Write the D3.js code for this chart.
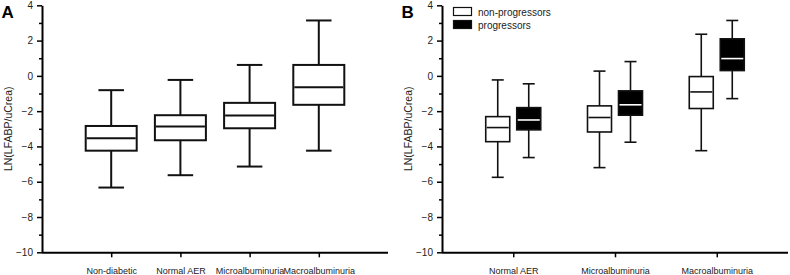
<!DOCTYPE html>
<html>
<head>
<meta charset="utf-8">
<script src="https://cdn.jsdelivr.net/npm/d3@7"></script>
<style>
  body { margin: 0; background: #fff; }
  svg { font-family: "Liberation Sans", Arial, sans-serif; }
</style>
</head>
<body>
<div id="chart"></div>
<script>
// Panel A – all groups
const groupsA = ["Non-diabetic", "Normal AER", "Microalbuminuria", "Macroalbuminuria"];
// [whisker low, q1, median, q3, whisker high]
const statsA = [
  [-6.33, -4.24, -3.53, -2.84, -0.81],
  [-5.63, -3.65, -2.87, -2.23, -0.23],
  [-5.14, -2.97, -2.25, -1.53, 0.62],
  [-4.24, -1.64, -0.64, 0.62, 3.14]
];

// Panel B – progressors vs non-progressors
const groupsB = ["Normal AER", "Microalbuminuria", "Macroalbuminuria"];
const seriesB = ["non-progressors", "progressors"];
const statsNonProg = [
  [-5.75, -3.73, -2.93, -2.31, -0.23],
  [-5.20, -3.18, -2.36, -1.70, 0.27],
  [-4.24, -1.85, -0.91, -0.04, 2.36]
];
const statsProg = [
  [-4.63, -3.06, -2.50, -1.80, -0.45],
  [-3.76, -2.23, -1.64, -0.85, 0.81],
  [-1.29, 0.30, 0.98, 2.10, 3.14]
];

const yMajor = [4, 2, 0, -2, -4, -6, -8, -10];
const yMinor = [3, 1, -1, -3, -5, -7, -9];
const yTitle = "LN(LFABP/uCrea)";

/* ---------- setup ---------- */
const W = 790, H = 275;
const plotTop = 5.3, plotBottom = 252.3;
const svg = d3.select("#chart").append("svg")
  .attr("width", W).attr("height", H);

const y = d3.scaleLinear().domain([-10, 4]).range([plotBottom, plotTop]);

function drawAxes(g, x0, x1, xScale, letter){
  // y axis majors
  g.append("g")
    .attr("transform", `translate(${x0},0)`)
    .call(d3.axisLeft(y).tickValues(yMajor).tickSize(5).tickSizeOuter(0).tickPadding(4))
    .call(a => a.select(".domain").attr("stroke-width", 2))
    .call(a => a.selectAll(".tick line").attr("stroke-width", 1.5))
    .call(a => a.selectAll("text").attr("font-size", 10).attr("fill", "#222"));
  // minors
  g.append("g")
    .attr("transform", `translate(${x0},0)`)
    .call(d3.axisLeft(y).tickValues(yMinor).tickSize(3).tickFormat(""))
    .call(a => a.select(".domain").remove())
    .call(a => a.selectAll(".tick line").attr("stroke-width", 1.5));

  // x axis
  g.append("g")
    .attr("transform", `translate(0,${plotBottom})`)
    .call(d3.axisBottom(xScale).tickSize(5).tickSizeOuter(0).tickPadding(10))
    .call(a => a.select(".domain").attr("d", `M${x0},0.5H${x1}`).attr("stroke-width", 2))
    .call(a => a.selectAll(".tick line").attr("stroke-width", 1.5))
    .call(a => a.selectAll("text").attr("font-size", 9).attr("fill", "#222"));

  // y title
  g.append("text")
    .attr("transform", `translate(${x0 - 30},${(plotTop + plotBottom) / 2}) rotate(-90)`)
    .attr("text-anchor", "middle")
    .attr("font-size", 10.5)
    .attr("fill", "#222")
    .text(yTitle);

  // panel letter
  g.append("text")
    .attr("x", x0 - 40.5).attr("y", 17.5)
    .attr("font-size", 17).attr("font-weight", "bold")
    .text(letter);
}

function drawBox(g, cx, w, s, fill, medColor, sw){
  const [lo, q1, med, q3, hi] = s;
  const cap = w / 2;
  g.append("line").attr("x1", cx).attr("x2", cx).attr("y1", y(hi)).attr("y2", y(q3))
    .attr("stroke", "#111").attr("stroke-width", sw);
  g.append("line").attr("x1", cx).attr("x2", cx).attr("y1", y(q1)).attr("y2", y(lo))
    .attr("stroke", "#111").attr("stroke-width", sw);
  g.append("line").attr("x1", cx - cap / 2).attr("x2", cx + cap / 2).attr("y1", y(hi)).attr("y2", y(hi))
    .attr("stroke", "#111").attr("stroke-width", sw);
  g.append("line").attr("x1", cx - cap / 2).attr("x2", cx + cap / 2).attr("y1", y(lo)).attr("y2", y(lo))
    .attr("stroke", "#111").attr("stroke-width", sw);
  g.append("rect")
    .attr("x", cx - w / 2).attr("y", y(q3))
    .attr("width", w).attr("height", y(q1) - y(q3))
    .attr("fill", fill).attr("stroke", "#111").attr("stroke-width", sw);
  g.append("line").attr("x1", cx - w / 2 + 1).attr("x2", cx + w / 2 - 1).attr("y1", y(med)).attr("y2", y(med))
    .attr("stroke", medColor).attr("stroke-width", sw);
}

/* ---------- panel A ---------- */
const xA0 = 42, xA1 = 388;
const xA = d3.scalePoint().domain(groupsA).range([xA0, xA1]).padding(1);
const gA = svg.append("g");
drawAxes(gA, xA0, xA1, xA, "A");
groupsA.forEach((grp, i) => drawBox(gA, xA(grp), 51, statsA[i], "#fff", "#111", 2));

/* ---------- panel B ---------- */
const xB0 = 442, xB1 = 788;
const xB = d3.scalePoint().domain(groupsB).range([xB0, xB1]).padding(0.7);
const gB = svg.append("g");
drawAxes(gB, xB0, xB1, xB, "B");
const off = d3.scalePoint().domain(seriesB).range([-15.5, 15.5]);
groupsB.forEach((grp, i) => {
  drawBox(gB, xB(grp) + off(seriesB[0]), 24, statsNonProg[i], "#fff", "#111", 1.6);
  drawBox(gB, xB(grp) + off(seriesB[1]), 24, statsProg[i], "#000", "#fff", 1.6);
});

// legend
const leg = gB.append("g").attr("transform", `translate(453,7)`);
seriesB.forEach((s, i) => {
  const row = leg.append("g").attr("transform", `translate(0,${i * 13})`);
  row.append("rect").attr("x", 0.5).attr("y", 0.5).attr("width", 18).attr("height", 8)
    .attr("fill", i ? "#000" : "#fff").attr("stroke", "#111").attr("stroke-width", 1.2);
  row.append("text").attr("x", 25).attr("y", 8.5).attr("font-size", 10).attr("fill", "#222").text(s);
});
</script>
</body>
</html>
